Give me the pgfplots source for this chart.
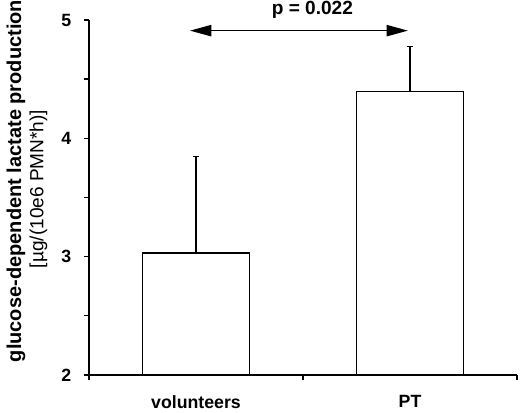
\documentclass[border=0pt]{standalone}
\usepackage{fontspec}
\setmainfont{Liberation Sans}
\usepackage{pgfplots}
\pgfplotsset{compat=1.18}
\usetikzlibrary{arrows.meta}

\begin{document}
\begin{tikzpicture}
\begin{axis}[
    width=321pt, height=266.25pt, scale only axis,
    xmin=0, xmax=2, ymin=2, ymax=5,
    axis x line*=bottom, axis y line*=left,
    axis line style={line width=1.1pt},
    clip mode=individual,
    tick align=outside,
    major tick length=3.75pt, minor tick length=3.75pt,
    every tick/.style={black, line width=1pt},
    ytick={2,3,4,5}, minor y tick num=1,
    xtick={0.5,1.5}, xticklabels={volunteers,PT},
    major x tick style={draw=none},
    extra x ticks={0,1,2}, extra x tick labels={},
    extra x tick style={major x tick style={draw=black, line width=1pt}},
    /pgf/number format/assume math mode=true,
    tick label style={font=\fontsize{13.3}{16}\selectfont\bfseries},
    yticklabel style={xshift=-6pt},
    xticklabel style={yshift=-8pt},
    ybar, bar width=80.25pt,
]
\addplot[draw=black, fill=white, line width=1.1pt,
    error bars/.cd, y dir=plus, y explicit,
    error bar style={line width=1.1pt},
    error mark options={rotate=90, mark size=2.6pt, line width=1.1pt}]
    coordinates {(0.5,3.03) +- (0,0.815) (1.5,4.395) +- (0,0.38)};

\draw[{Triangle[length=16pt,width=8.5pt]}-{Triangle[length=16pt,width=8.5pt]}, line width=1pt]
    (axis cs:0.472,4.91) -- (axis cs:1.49,4.91);
\node[font=\fontsize{14.3}{17}\selectfont\bfseries] at (axis cs:1.044,5.085) {p = 0.022};

\node[rotate=90, font=\fontsize{15}{18}\selectfont\bfseries]
    at ([xshift=-54.75pt]axis description cs:0,0.5465) {glucose-dependent lactate production};
\node[rotate=90, font=\fontsize{14.3}{17}\selectfont]
    at ([xshift=-37.9pt]axis description cs:0,0.524) {[µg/(10e6 PMN*h)]};
\end{axis}
\pgfresetboundingbox
\path[use as bounding box] (-66.75pt,-28.5pt) rectangle (323.25pt,281.25pt);
\end{tikzpicture}
\end{document}
